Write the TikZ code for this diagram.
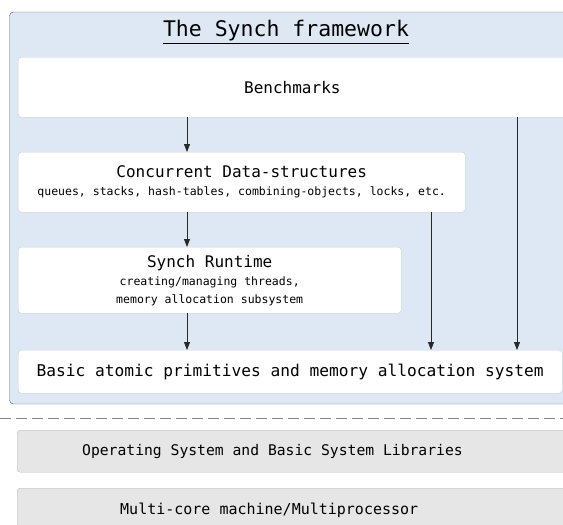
\documentclass[tikz,border=0pt]{standalone}
\usepackage{fontspec}
\setmonofont{DejaVu Sans Mono}
\usepackage{tikz}
\usetikzlibrary{arrows.meta, positioning, calc}
\definecolor{framebg}{RGB}{222,232,244}
\definecolor{frameline}{RGB}{95,105,115}
\definecolor{boxline}{RGB}{200,204,208}
\definecolor{osbg}{RGB}{230,230,230}
\definecolor{osline}{RGB}{185,185,185}
\definecolor{arrowgray}{RGB}{40,40,40}
\tikzset{
  layerbox/.style={
    draw=boxline,
    fill=white,
    rounded corners=3pt,
    align=center,
    anchor=north west,
    inner sep=2pt,
    font=\ttfamily\fontsize{16}{19}\selectfont
  },
  widebox/.style={
    layerbox,
    text width=500pt,
    align=left,
    execute at begin node={\spaceskip=0pt\xspaceskip=0pt\relax}
  },
  osbox/.style={
    widebox,
    draw=osline,
    fill=osbg,
    font=\ttfamily\fontsize{15}{18}\selectfont
  },
  arrow/.style={-{Triangle[length=8pt,width=6pt]}, thick, draw=arrowgray}
}
\newcommand{\subline}{\fontsize{11.5}{18.5}\selectfont}

\begin{document}
\begin{tikzpicture}[x=1pt, y=-1pt]
\useasboundingbox (0,0) rectangle (563,525);
\clip (0,0) rectangle (563,525);

% framework frame
\draw[draw=frameline, fill=framebg, rounded corners=4pt] (9.5,12) rectangle (600,404);
\node[font=\ttfamily\fontsize{21.5}{24}\selectfont] (title) at (286,32)
{\underline{The Synch framework}};

\node[widebox, inner xsep=226pt, minimum height=60pt] (bench) at (18,57)
{Benchmarks};

\node[layerbox, minimum width=447pt, minimum height=60pt] (conc) at (18,152)
{Concurrent Data-structures\\[-1pt]
{\subline queues, stacks, hash-tables, combining-objects, locks, etc.}};

\node[layerbox, minimum width=383pt, minimum height=66pt] (rt) at (18,247)
{Synch Runtime\\[-1pt]
{\subline creating/managing threads,}\\[-1pt]
{\subline memory allocation subsystem}};

\node[layerbox, minimum width=544pt, minimum height=43pt,
      font=\ttfamily\fontsize{16.2}{19}\selectfont] (basic) at (18,350)
{Basic atomic primitives and memory allocation system};

% system layers
\node[osbox, inner xsep=65pt, minimum height=42pt,
      font=\ttfamily\fontsize{14.7}{18}\selectfont] (os) at (17,430)
{Operating System and Basic System Libraries};

\node[osbox, inner xsep=103pt, minimum height=52pt, text depth=10pt] (hw) at (17,488)
{Multi-core machine/Multiprocessor};

\coordinate (colA) at (187,0);
\coordinate (colB) at (431,0);
\coordinate (colC) at (517,0);
\coordinate (sepL) at (0,418);
\coordinate (sepR) at (563,418);

\draw[arrow] (bench.south -| colA) -- (conc.north -| colA);
\draw[arrow] (conc.south -| colA) -- (rt.north -| colA);
\draw[arrow] (rt.south -| colA) -- (basic.north -| colA);
\draw[arrow] (conc.south -| colB) -- (basic.north -| colB);
\draw[arrow] (bench.south -| colC) -- (basic.north -| colC);

\draw[gray, thick, dash pattern=on 11pt off 5pt] (sepL) -- (sepR);

\end{tikzpicture}
\end{document}
